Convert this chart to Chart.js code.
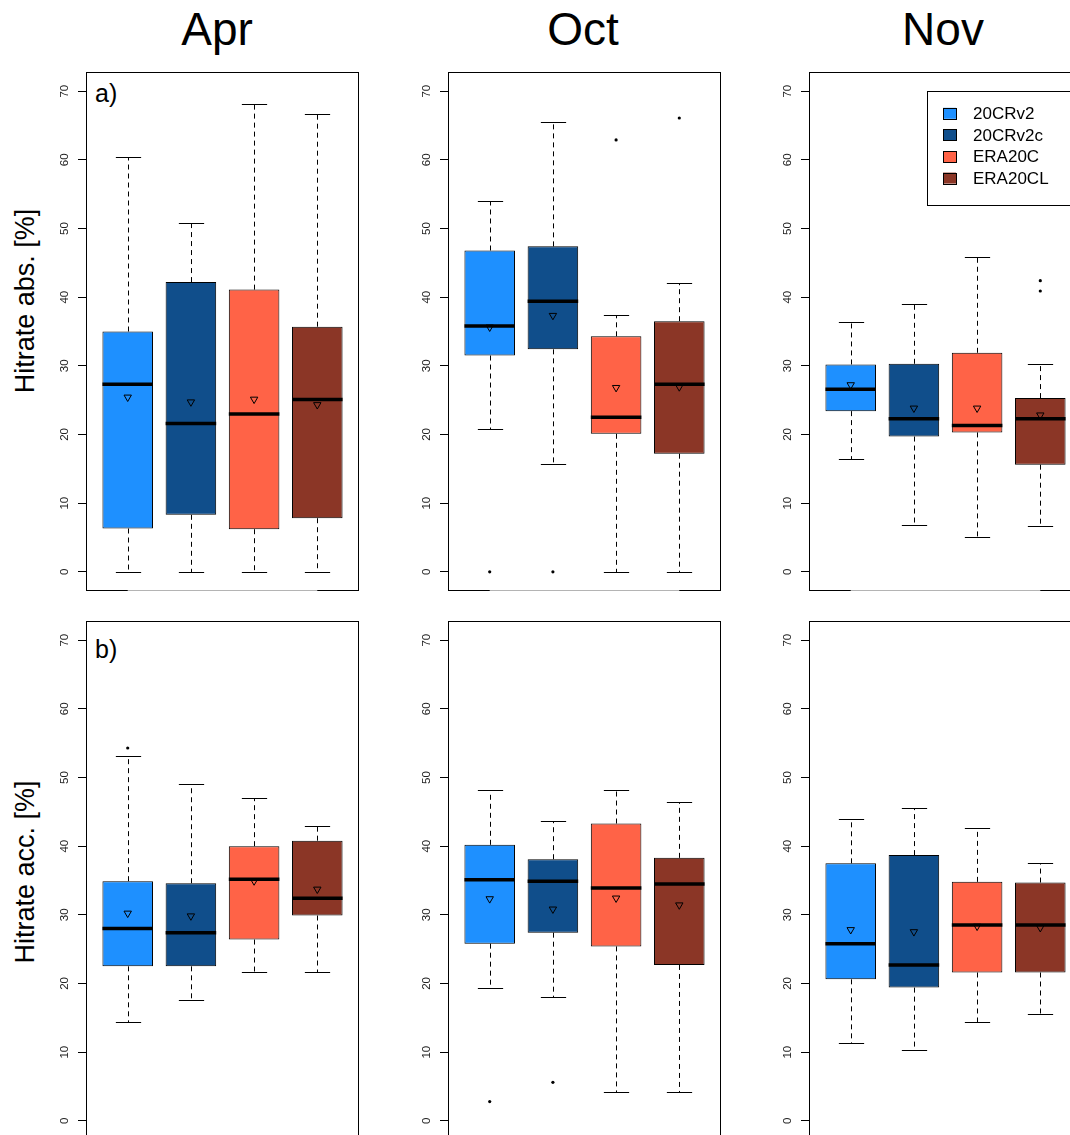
<!DOCTYPE html>
<html>
<head>
<meta charset="utf-8">
<script src="https://cdn.jsdelivr.net/npm/chart.js@4.4.0/dist/chart.umd.min.js"></script>
<style>
  body { margin: 0; width: 1070px; height: 1135px; overflow: hidden; background: #fff; position: relative;
         font-family: "Liberation Sans", Arial, Helvetica, sans-serif; }
  canvas { position: absolute; }
  .t { position: absolute; white-space: nowrap; color: #000; }
  .month { font-size: 46px; line-height: 46px; top: 6px; transform: translateX(-50%); }
  .ylab { font-size: 27px; line-height: 27px; left: 25px; transform: translate(-50%, -50%) rotate(-90deg); }
  .tag { font-size: 25px; line-height: 25px; left: 95px; }
</style>
</head>
<body>
<div class="t month" style="left:217px">Apr</div>
<div class="t month" style="left:583px">Oct</div>
<div class="t month" style="left:943px">Nov</div>
<div class="t ylab" style="top:301px">Hitrate abs. [%]</div>
<div class="t ylab" style="top:872px">Hitrate acc. [%]</div>
<div class="t tag" style="top:81px">a)</div>
<div class="t tag" style="top:637px">b)</div>

<script>
// reanalyses (one box each) and months (one panel column each)
const series = ['20CRv2', '20CRv2c', 'ERA20C', 'ERA20CL'];
const months = ['Apr', 'Oct', 'Nov'];
const yTicks = [0, 10, 20, 30, 40, 50, 60, 70];
const boxColors = ['#1E90FF', '#104E8B', '#FF6347', '#8B3626'];

// a) Hitrate abs. [%]  -- rows: Apr, Oct, Nov ; columns: series
const absLow  = [[0, 0, 0, 0], [20.8, 15.7, 0, 0], [16.5, 6.8, 5.0, 6.6]];
const absQ1   = [[6.3, 8.3, 6.2, 7.8], [31.5, 32.4, 20.1, 17.2], [23.4, 19.7, 20.3, 15.6]];
const absMed  = [[27.3, 21.6, 23.0, 25.1], [35.8, 39.4, 22.5, 27.3], [26.6, 22.3, 21.3, 22.3]];
const absQ3   = [[35.0, 42.2, 41.1, 35.7], [46.8, 47.4, 34.3, 36.5], [30.2, 30.3, 31.9, 25.3]];
const absHigh = [[60.4, 50.8, 68.2, 66.7], [54.0, 65.5, 37.4, 42.1], [36.4, 39.0, 45.8, 30.3]];
const absMean = [[25.3, 24.6, 25.0, 24.2], [35.5, 37.2, 26.7, 26.8], [27.1, 23.7, 23.7, 22.7]];
const absOut  = [[[], [], [], []], [[0], [0], [62.9], [66.1]], [[], [], [], [42.4, 40.9]]];

// b) Hitrate acc. [%]
const accLow  = [[14.4, 17.6, 21.7, 21.7], [19.4, 18.1, 4.2, 4.2], [11.3, 10.3, 14.4, 15.5]];
const accQ1   = [[22.5, 22.5, 26.4, 29.9], [25.8, 27.4, 25.4, 22.7], [20.6, 19.4, 21.6, 21.6]];
const accMed  = [[28.0, 27.4, 35.2, 32.4], [35.1, 34.9, 33.9, 34.5], [25.8, 22.7, 28.5, 28.5]];
const accQ3   = [[34.9, 34.6, 40.0, 40.8], [40.2, 38.1, 43.3, 38.3], [37.5, 38.7, 34.8, 34.7]];
const accHigh = [[53.2, 49.1, 47.0, 42.9], [48.2, 43.6, 48.2, 46.4], [43.9, 45.6, 42.7, 37.5]];
const accMean = [[30.1, 29.7, 34.8, 33.6], [32.2, 30.7, 32.3, 31.3], [27.7, 27.4, 28.2, 28.0]];
const accOut  = [[[54.3], [], [], []], [[2.8], [5.6], [], []], [[], [], [], []]];

const rows = [
  { low: absLow, q1: absQ1, med: absMed, q3: absQ3, high: absHigh, mean: absMean, out: absOut },
  { low: accLow, q1: accQ1, med: accMed, q3: accQ3, high: accHigh, mean: accMean, out: accOut }
];

// panel frames on the page
const frameLeft = [86, 448, 809];
const frameTop = [72, 621];
const frameW = 273, frameH = 519, axisW = 50;

const boxExtras = {
  id: 'boxExtras',
  beforeDatasetsDraw(chart) {
    const { ctx, scales: { y } } = chart;
    const s = chart.data.datasets[0].stats;
    chart.getDatasetMeta(0).data.forEach((bar, i) => {
      const cx = Math.round(bar.x) + 0.5;
      const half = bar.width / 4;
      ctx.save();
      ctx.strokeStyle = '#000';
      ctx.lineWidth = 1;
      [[s.q3[i], s.high[i]], [s.q1[i], s.low[i]]].forEach(([from, to]) => {
        const y0 = y.getPixelForValue(from), y1 = Math.round(y.getPixelForValue(to)) + 0.5;
        ctx.setLineDash([5, 4]);
        ctx.beginPath(); ctx.moveTo(cx, y0); ctx.lineTo(cx, y1); ctx.stroke();
        ctx.setLineDash([]);
        ctx.beginPath(); ctx.moveTo(cx - half, y1); ctx.lineTo(cx + half, y1); ctx.stroke();
      });
      ctx.restore();
    });
  },
  afterDatasetsDraw(chart) {
    const { ctx, scales: { y } } = chart;
    const s = chart.data.datasets[0].stats;
    chart.getDatasetMeta(0).data.forEach((bar, i) => {
      const cx = bar.x;
      ctx.save();
      // median
      const ym = y.getPixelForValue(s.med[i]);
      ctx.strokeStyle = '#000';
      ctx.lineWidth = 3.5;
      ctx.beginPath(); ctx.moveTo(cx - bar.width / 2, ym); ctx.lineTo(cx + bar.width / 2, ym); ctx.stroke();
      // outliers
      ctx.fillStyle = '#000';
      s.out[i].forEach(v => {
        ctx.beginPath(); ctx.arc(cx, y.getPixelForValue(v), 1.6, 0, Math.PI * 2); ctx.fill();
      });
      // mean, open down triangle
      const yv = y.getPixelForValue(s.mean[i]);
      ctx.lineWidth = 1;
      ctx.beginPath();
      ctx.moveTo(cx - 3.7, yv - 3); ctx.lineTo(cx + 3.7, yv - 3); ctx.lineTo(cx, yv + 3.4); ctx.closePath();
      ctx.stroke();
      ctx.restore();
    });
  },
  afterDraw(chart) {
    const { ctx, chartArea: a, scales: { x, y } } = chart;
    ctx.save();
    // frame
    ctx.strokeStyle = '#000';
    ctx.lineWidth = 1;
    ctx.strokeRect(Math.round(a.left) + 0.5, Math.round(a.top) + 0.5,
                   Math.round(a.right - a.left) - 1, Math.round(a.bottom - a.top) - 1);
    // x axis line (no labels) between first and last box
    ctx.strokeStyle = '#b4b4b4';
    ctx.beginPath();
    ctx.moveTo(x.getPixelForValue(1), Math.round(a.bottom) - 0.5);
    ctx.lineTo(x.getPixelForValue(series.length), Math.round(a.bottom) - 0.5);
    ctx.stroke();
    // rotated tick labels
    ctx.fillStyle = '#222';
    ctx.font = '11.5px "Liberation Sans", Arial, sans-serif';
    ctx.textAlign = 'center';
    ctx.textBaseline = 'alphabetic';
    y.ticks.forEach(t => {
      ctx.save();
      ctx.translate(a.left - 18, y.getPixelForValue(t.value));
      ctx.rotate(-Math.PI / 2);
      ctx.fillText(String(t.value), 0, 0);
      ctx.restore();
    });
    // legend inside the top Nov panel
    if (chart.data.datasets[0].showKey) {
      const bx = a.left + 118, by = a.top + 19;
      ctx.strokeStyle = '#000';
      ctx.strokeRect(Math.round(bx) + 0.5, Math.round(by) + 0.5, Math.round(a.right - 4 - bx), 114);
      ctx.font = '17px "Liberation Sans", Arial, sans-serif';
      ctx.textAlign = 'left';
      ctx.textBaseline = 'middle';
      series.forEach((name, i) => {
        const ry = a.top + 41.3 + i * 21.6;
        ctx.fillStyle = boxColors[i];
        ctx.fillRect(bx + 16, ry - 5.5, 13, 11);
        ctx.strokeRect(Math.round(bx + 16) + 0.5, Math.round(ry - 5.5) + 0.5, 13, 11);
        ctx.fillStyle = '#000';
        ctx.fillText(name, bx + 46, ry + 1);
      });
    }
    ctx.restore();
  }
};

function makePanel(row, col) {
  const canvas = document.createElement('canvas');
  canvas.width = axisW + frameW + 1;
  canvas.height = frameH + 2;
  canvas.style.left = (frameLeft[col] - axisW) + 'px';
  canvas.style.top = (frameTop[row] - 1) + 'px';
  document.body.appendChild(canvas);
  const st = rows[row];

  new Chart(canvas, {
    type: 'bar',
    data: {
      datasets: [{
        label: months[col],
        data: series.map((s, i) => ({ x: i + 1, y: [st.q1[col][i], st.q3[col][i]] })),
        backgroundColor: boxColors,
        borderColor: '#000',
        borderWidth: 1,
        borderSkipped: false,
        categoryPercentage: 1,
        barPercentage: 0.8,
        stats: {
          low: st.low[col], q1: st.q1[col], med: st.med[col], q3: st.q3[col],
          high: st.high[col], mean: st.mean[col], out: st.out[col]
        },
        showKey: row === 0 && col === 2
      }]
    },
    options: {
      responsive: false,
      devicePixelRatio: 1,
      animation: false,
      events: [],
      layout: { padding: { top: 1, right: 1, bottom: 1, left: 0 } },
      plugins: { legend: { display: false }, tooltip: { enabled: false }, title: { display: false } },
      scales: {
        x: {
          type: 'linear',
          offset: false,
          min: 0.34,
          max: series.length + 0.66,
          afterBuildTicks: s => { s.ticks = series.map((n, i) => ({ value: i + 1 })); },
          grid: { offset: false },
          display: false
        },
        y: {
          min: -2.8,
          max: 72.8,
          afterBuildTicks: s => { s.ticks = yTicks.map(v => ({ value: v })); },
          afterFit: s => { s.width = axisW; },
          ticks: { display: false },
          grid: { drawOnChartArea: false, drawTicks: true, tickLength: 8, color: '#000', lineWidth: 1 },
          border: { display: false }
        }
      }
    },
    plugins: [boxExtras]
  });
}

for (let r = 0; r < rows.length; r++) {
  for (let c = 0; c < months.length; c++) makePanel(r, c);
}
</script>
</body>
</html>
